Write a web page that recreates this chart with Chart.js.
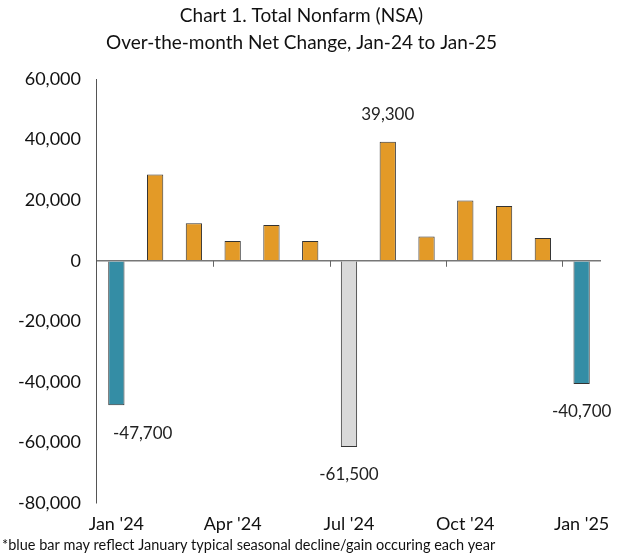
<!DOCTYPE html>
<html>
<head>
<meta charset="utf-8">
<script src="https://cdn.jsdelivr.net/npm/chart.js@4"></script>
<style>
  html, body { margin: 0; padding: 0; background: #fff; }
  #wrap { width: 621px; height: 554px; }
</style>
</head>
<body>
<div id="wrap"><canvas id="nonfarmChart" width="621" height="554"></canvas></div>
<script>
// Over-the-month net change, Jan-24 to Jan-25
const months = ["Jan '24", "Feb '24", "Mar '24", "Apr '24", "May '24", "Jun '24", "Jul '24",
                "Aug '24", "Sep '24", "Oct '24", "Nov '24", "Dec '24", "Jan '25"];
const netChange = [-47700, 28500, 12400, 6500, 11800, 6500, -61500, 39300, 8000, 19900, 18100, 7500, -40700];
const barColors = ['#348da5', '#e39a27', '#e39a27', '#e39a27', '#e39a27', '#e39a27', '#d9d9d9',
                   '#e39a27', '#e39a27', '#e39a27', '#e39a27', '#e39a27', '#348da5'];
const labelledBars = [0, 6, 7, 12]; // bars that carry a value label
const yTicks = { min: -80000, max: 60000, step: 20000 };

const FONT = 'Lato, "Open Sans", sans-serif';

// value labels next to selected bars
const valueLabels = {
    id: 'valueLabels',
    afterDatasetsDraw(chart) {
        const ctx = chart.ctx;
        const bars = chart.getDatasetMeta(0).data;
        ctx.save();
        ctx.font = '17px ' + FONT;
        ctx.fillStyle = '#222';
        ctx.textAlign = 'center';
        ctx.textBaseline = 'middle';
        labelledBars.forEach(i => {
            const v = netChange[i];
            const txt = v.toLocaleString('en-US');
            const w = ctx.measureText(txt).width;
            let x = bars[i].x;
            if (x - w / 2 < chart.chartArea.left + 16) x = chart.chartArea.left + 16 + w / 2;
            const y = v < 0 ? bars[i].y + 28 : bars[i].y - 27;
            ctx.fillText(txt, x, y);
        });
        ctx.restore();
    }
};

// small tick marks on the zero line between quarters
const zeroTicks = {
    id: 'zeroTicks',
    afterDatasetsDraw(chart) {
        const ctx = chart.ctx;
        const xs = chart.scales.x;
        const y0 = chart.scales.y.getPixelForValue(0);
        ctx.save();
        ctx.strokeStyle = '#666';
        ctx.lineWidth = 1;
        for (let i = 3; i < months.length; i += 3) {
            const x = Math.round((xs.getPixelForValue(i - 1) + xs.getPixelForValue(i)) / 2) + 0.5;
            ctx.beginPath();
            ctx.moveTo(x, y0);
            ctx.lineTo(x, y0 + 6);
            ctx.stroke();
        }
        ctx.restore();
    }
};

const ctx = document.getElementById('nonfarmChart').getContext('2d');
const nonfarmChart = new Chart(ctx, {
    type: 'bar',
    data: {
        labels: months,
        datasets: [{
            label: 'Net Change',
            data: netChange,
            backgroundColor: barColors,
            borderColor: '#333',
            borderWidth: 1,
            categoryPercentage: 1,
            barPercentage: 0.42
        }]
    },
    options: {
        responsive: false,
        animation: false,
        layout: { padding: { left: 2, right: 20, top: 0, bottom: 0 } },
        plugins: {
            legend: { display: false },
            tooltip: { enabled: false },
            title: {
                display: true,
                text: ['Chart 1. Total Nonfarm (NSA)', 'Over-the-month Net Change, Jan-24 to Jan-25'],
                font: { family: FONT, size: 19, weight: 'normal', lineHeight: 1.45 },
                color: '#111',
                padding: { top: 2, bottom: 22 }
            },
            subtitle: {
                display: true,
                position: 'bottom',
                align: 'start',
                text: '*blue bar may reflect January typical seasonal decline/gain occuring each year',
                font: { family: FONT, size: 14.5 },
                color: '#111',
                padding: { top: 0, bottom: 0 }
            }
        },
        scales: {
            x: {
                grid: { display: false },
                border: { display: false },
                ticks: {
                    autoSkip: false,
                    maxRotation: 0,
                    font: { family: FONT, size: 18 },
                    color: '#111',
                    padding: 2,
                    callback: (v, i) => (i % 3 === 0 ? months[i] : '')
                }
            },
            y: {
                min: yTicks.min,
                max: yTicks.max,
                border: { display: true, color: '#555', width: 1 },
                grid: {
                    drawTicks: false,
                    color: c => (c.tick && c.tick.value === 0 ? '#777' : 'rgba(0,0,0,0)'),
                    lineWidth: 1.5
                },
                ticks: {
                    stepSize: yTicks.step,
                    font: { family: FONT, size: 18 },
                    color: '#111',
                    padding: 16,
                    callback: v => v.toLocaleString('en-US')
                }
            }
        }
    },
    plugins: [valueLabels, zeroTicks]
});
</script>
</body>
</html>
